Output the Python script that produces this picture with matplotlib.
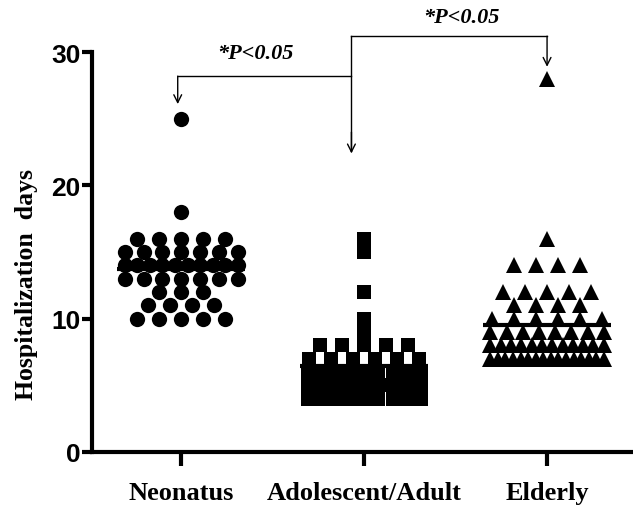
import numpy as np
import matplotlib
matplotlib.use('Agg')
import matplotlib.pyplot as plt

groups = ['Neonatus', 'Adolescent/Adult', 'Elderly']
markers = ['o', 's', '^']

# hospitalization days per patient
neonatus = [25, 18] + [16]*5 + [15]*7 + [14]*10 + [13]*7 + [12]*3 + [11]*4 + [10]*5
adult = [16, 15, 12, 10, 9] + [8]*5 + [7]*6 + [6]*9 + [5]*10 + [4]*9
elderly = [28, 16] + [14]*4 + [12]*5 + [11]*4 + [10]*6 + [9]*8 + [8]*12 + [7]*16
data = [neonatus, adult, elderly]

yticks = [0, 10, 20, 30]
p_label = '*P<0.05'


def spread(vals, step=0.12, width=0.62):
    # column scatter: points of equal value side by side around the centre
    vals = np.asarray(vals, dtype=float)
    offs = np.zeros(len(vals))
    for v in np.unique(vals):
        idx = np.where(vals == v)[0]
        k = len(idx)
        if k > 1:
            s = min(step, width / (k - 1))
            offs[idx] = (np.arange(k) - (k - 1) / 2) * s
    return offs


fig = plt.figure(figsize=(6.33, 5.06), dpi=100)
ax = fig.add_axes([0.145, 0.105, 0.855, 0.79])

sizes = {'o': 11, 's': 10.5, '^': 12}
for i, (vals, m) in enumerate(zip(data, markers)):
    xs = i + spread(vals)
    ax.plot(xs, vals, m, color='black', markersize=sizes[m], markeredgewidth=0,
            clip_on=False, zorder=3)
    ax.hlines(np.mean(vals), i - 0.35, i + 0.35, color='black', lw=3, zorder=4)

ax.set_xlim(-0.49, 2.47)
ax.set_ylim(0, 30)
ax.set_yticks(yticks)
ax.set_yticklabels([str(t) for t in yticks], fontsize=19, fontweight='bold',
                   family='Liberation Sans')
ax.set_xticks(range(len(groups)))
ax.set_xticklabels(groups, fontsize=19, fontweight='bold', family='Liberation Serif')
ax.tick_params(axis='y', direction='out', length=7, width=3, pad=1)
ax.tick_params(axis='x', direction='out', length=10, width=3, pad=11)

for s in ['top', 'right']:
    ax.spines[s].set_visible(False)
for s in ['left', 'bottom']:
    ax.spines[s].set_linewidth(3)

ax.set_ylabel('Hospitalization  days', fontsize=18.5, fontweight='bold',
              family='Liberation Serif')
ax.yaxis.set_label_coords(-0.1, 0.42)

# significance brackets
lw = 1
arrow = dict(arrowstyle='->', color='black', lw=lw, shrinkA=0, shrinkB=0,
             mutation_scale=14)
ax.plot([0.93, 0.93], [22.6, 31.2], color='black', lw=lw, clip_on=False)
ax.plot([-0.02, 0.93], [28.2, 28.2], color='black', lw=lw, clip_on=False)
ax.plot([0.93, 2.0], [31.2, 31.2], color='black', lw=lw, clip_on=False)
ax.annotate('', xy=(0.93, 22.4), xytext=(0.93, 24), arrowprops=arrow,
            annotation_clip=False)
ax.annotate('', xy=(-0.02, 26.1), xytext=(-0.02, 28.2), arrowprops=arrow,
            annotation_clip=False)
ax.annotate('', xy=(2.0, 28.9), xytext=(2.0, 31.2), arrowprops=arrow,
            annotation_clip=False)
ax.text(0.405, 29.9, p_label, ha='center', va='center', fontsize=16,
        fontweight='bold', style='italic', family='Liberation Serif')
ax.text(1.53, 32.6, p_label, ha='center', va='center', fontsize=16,
        fontweight='bold', style='italic', family='Liberation Serif')

fig.savefig('out.png', dpi=100)
